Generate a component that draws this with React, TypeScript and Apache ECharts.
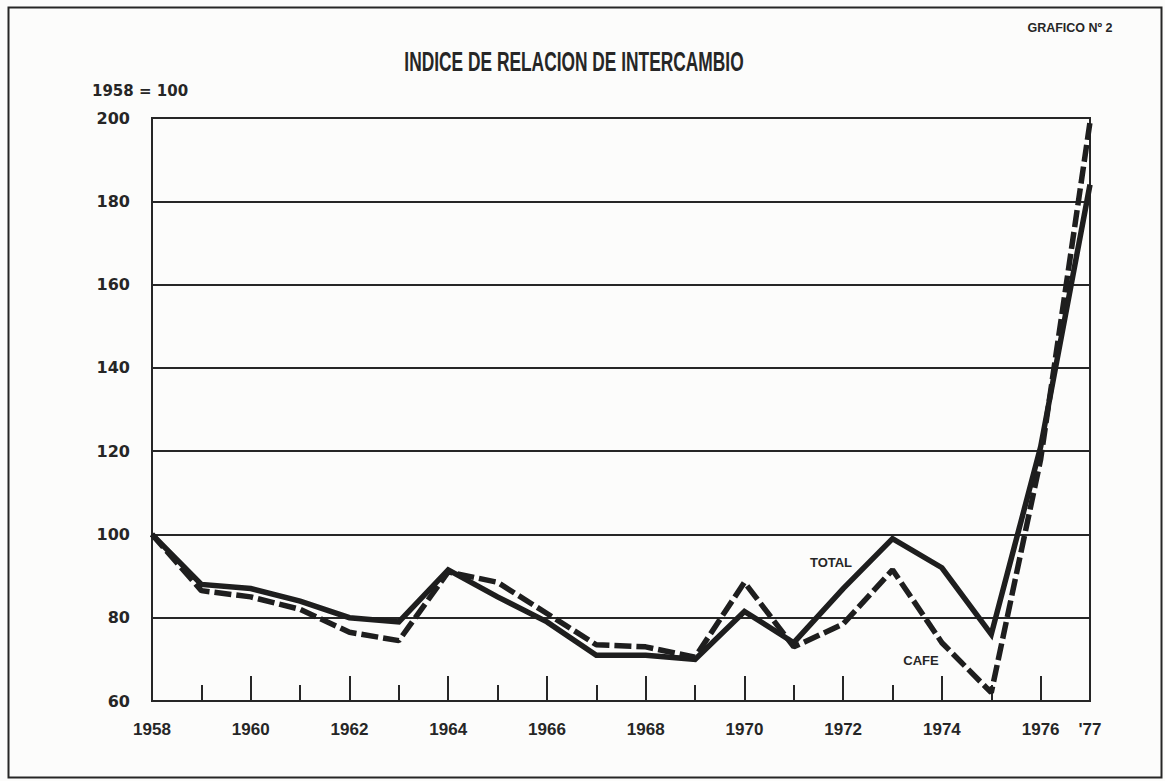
import React, { useEffect, useRef } from "react";
import * as echarts from "echarts";

const years = ["1958","1959","1960","1961","1962","1963","1964","1965","1966","1967","1968","1969","1970","1971","1972","1973","1974","1975","1976","1977"];
const totalValues = [100, 88, 87, 84, 80, 79, 91.5, 85, 79, 71, 71, 70, 81.5, 74, 87, 99, 92, 76, 121, 184];
const cafeValues = [100, 86.5, 85, 82, 76.5, 74.5, 91, 88.5, 81, 73.5, 73, 70.5, 88.5, 73, 78.5, 91.5, 74, 62, 118, 199];
const yTicks = { min: 60, max: 200, interval: 20 };

const INK = "#262626";

export default function App() {
  const ref = useRef<HTMLDivElement>(null);
  useEffect(() => {
    const chart = echarts.init(ref.current!, null, { renderer: "svg" });
    chart.setOption({
      animation: false,
      backgroundColor: "#fcfcfb",
      grid: {
        left: 152, right: 75, top: 118, bottom: 80,
        show: true, borderColor: INK, borderWidth: 2, backgroundColor: "transparent",
      },
      xAxis: [
        {
          type: "category",
          data: years,
          boundaryGap: false,
          axisLine: { show: true, lineStyle: { color: INK, width: 2 } },
          axisTick: { show: true, inside: true, length: 16, interval: 0, lineStyle: { color: INK, width: 2 } },
          axisLabel: {
            interval: (i: number, v: string) => i % 2 === 0 || v === "1977",
            formatter: (v: string) => (v === "1977" ? "'77" : v),
            color: INK, fontFamily: "Liberation Sans Narrow, Liberation Sans, sans-serif",
            fontWeight: "bold", fontSize: 17, margin: 20,
          },
          splitLine: { show: false },
        },
        {
          type: "category",
          data: years,
          boundaryGap: false,
          position: "bottom",
          axisLine: { show: false },
          axisTick: { show: true, inside: true, length: 25, interval: 1, lineStyle: { color: INK, width: 2 } },
          axisLabel: { show: false },
          splitLine: { show: false },
        },
      ],
      yAxis: {
        type: "value",
        min: yTicks.min, max: yTicks.max, interval: yTicks.interval,
        axisLine: { show: true, lineStyle: { color: INK, width: 2 } },
        axisTick: { show: false },
        axisLabel: { color: INK, fontFamily: "DejaVu Sans", fontWeight: "bold", fontSize: 16, margin: 22 },
        splitLine: { show: true, lineStyle: { color: INK, width: 2 } },
      },
      series: [
        {
          name: "TOTAL", type: "line", data: totalValues, xAxisIndex: 0,
          showSymbol: false, symbol: "none",
          lineStyle: { color: "#1e1e1e", width: 5.5, join: "miter" },
        },
        {
          name: "CAFE", type: "line", data: cafeValues, xAxisIndex: 0,
          showSymbol: false, symbol: "none",
          lineStyle: { color: "#1e1e1e", width: 5.5, type: [17, 5] },
        },
      ],
      graphic: [
        { type: "rect", left: 6, top: 5, shape: { width: 1153, height: 770 }, style: { fill: "none", stroke: INK, lineWidth: 2 }, silent: true },
        { type: "text", x: 574, y: 61, scaleX: 0.62, style: { text: "INDICE DE RELACION DE INTERCAMBIO", fill: INK, font: "bold 28px Liberation Sans", textAlign: "center", textVerticalAlign: "middle" } },
        { type: "text", x: 1070, y: 28, style: { text: "GRAFICO Nº 2", fill: INK, font: "bold 12.5px Liberation Sans", textAlign: "center", textVerticalAlign: "middle" } },
        { type: "text", x: 92, y: 91, style: { text: "1958 = 100", fill: INK, font: "bold 15px DejaVu Sans", textAlign: "left", textVerticalAlign: "middle" } },
        { type: "text", x: 831, y: 562, style: { text: "TOTAL", fill: INK, font: "bold 13px Liberation Sans", textAlign: "center", textVerticalAlign: "middle" } },
        { type: "text", x: 921, y: 660, style: { text: "CAFE", fill: INK, font: "bold 13px Liberation Sans", textAlign: "center", textVerticalAlign: "middle" } },
      ],
    });
    return () => chart.dispose();
  }, []);
  return <div ref={ref} style={{ position: "fixed", left: 0, top: 0, width: 1165, height: 781 }} />;
}
